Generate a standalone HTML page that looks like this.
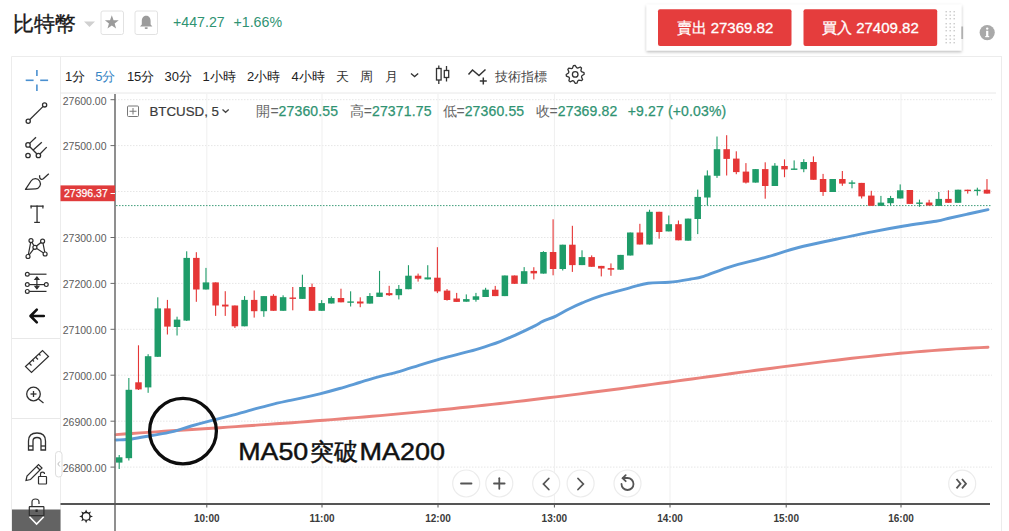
<!DOCTYPE html><html><head><meta charset="utf-8"><style>
html,body{margin:0;padding:0;background:#fff;}
body{width:1009px;height:531px;overflow:hidden;position:relative;font-family:"Liberation Sans", sans-serif;}
svg{position:absolute;left:0;top:0;}
text{font-family:"Liberation Sans", sans-serif;}
</style></head><body>
<svg width="1009" height="531" viewBox="0 0 1009 531">
<defs><filter id="sh" x="-10%" y="-30%" width="120%" height="170%"><feDropShadow dx="0" dy="1.5" stdDeviation="1.6" flood-color="#000" flood-opacity="0.28"/></filter><filter id="sh2" x="-50%" y="-50%" width="200%" height="200%"><feDropShadow dx="0" dy="0.5" stdDeviation="1" flood-color="#000" flood-opacity="0.12"/></filter></defs>
<text x="12.5" y="31" font-size="20.5" fill="#1a1a1a" stroke="#1a1a1a" stroke-width="0.35">比特幣</text>
<path d="M84 21.5 L95 21.5 L89.5 27 Z" fill="#d0d0d0"/>
<rect x="101" y="11" width="22.5" height="23.5" rx="2" fill="#fff" stroke="#e2e2e2" stroke-width="1"/>
<path d="M111.80 15.30 L113.56 20.17 L118.74 20.34 L114.65 23.53 L116.09 28.51 L111.80 25.60 L107.51 28.51 L108.95 23.53 L104.86 20.34 L110.04 20.17 Z" fill="#9b9b9b"/>
<rect x="135" y="11" width="22.5" height="23.5" rx="2" fill="#fff" stroke="#e2e2e2" stroke-width="1"/>
<path d="M146.2 15.8 C143 15.8 141.8 18.5 141.8 21 L141.8 24.5 L140 26.5 L152.4 26.5 L150.6 24.5 L150.6 21 C150.6 18.5 149.4 15.8 146.2 15.8 Z" fill="#9b9b9b"/><rect x="144.6" y="27.3" width="3.2" height="1.6" rx="0.8" fill="#9b9b9b"/>
<text x="173" y="27" font-size="14.2" fill="#2f9372">+447.27</text>
<text x="233.5" y="27" font-size="14.2" fill="#2f9372">+1.66%</text>
<rect x="646.5" y="4.5" width="315" height="46" fill="#fff" filter="url(#sh)"/>
<rect x="658" y="9.2" width="133.5" height="36.8" rx="2" fill="#e53d3d"/>
<rect x="803.5" y="9.2" width="133.7" height="36.8" rx="2" fill="#e53d3d"/>
<text x="676.5" y="33" font-size="15" fill="#fff" stroke="#fff" stroke-width="0.3">賣出 27369.82</text>
<text x="822" y="33" font-size="15" fill="#fff" stroke="#fff" stroke-width="0.3">買入 27409.82</text>
<rect x="945.5" y="11.0" width="1.4" height="1.4" fill="#c9c9c9"/>
<rect x="945.5" y="14.5" width="1.4" height="1.4" fill="#c9c9c9"/>
<rect x="945.5" y="18.0" width="1.4" height="1.4" fill="#c9c9c9"/>
<rect x="945.5" y="23.0" width="1.4" height="1.4" fill="#c9c9c9"/>
<rect x="945.5" y="26.5" width="1.4" height="1.4" fill="#c9c9c9"/>
<rect x="945.5" y="30.0" width="1.4" height="1.4" fill="#c9c9c9"/>
<rect x="945.5" y="35.0" width="1.4" height="1.4" fill="#c9c9c9"/>
<rect x="945.5" y="38.5" width="1.4" height="1.4" fill="#c9c9c9"/>
<rect x="945.5" y="42.0" width="1.4" height="1.4" fill="#c9c9c9"/>
<rect x="949.5" y="11.0" width="1.4" height="1.4" fill="#c9c9c9"/>
<rect x="949.5" y="14.5" width="1.4" height="1.4" fill="#c9c9c9"/>
<rect x="949.5" y="18.0" width="1.4" height="1.4" fill="#c9c9c9"/>
<rect x="949.5" y="23.0" width="1.4" height="1.4" fill="#c9c9c9"/>
<rect x="949.5" y="26.5" width="1.4" height="1.4" fill="#c9c9c9"/>
<rect x="949.5" y="30.0" width="1.4" height="1.4" fill="#c9c9c9"/>
<rect x="949.5" y="35.0" width="1.4" height="1.4" fill="#c9c9c9"/>
<rect x="949.5" y="38.5" width="1.4" height="1.4" fill="#c9c9c9"/>
<rect x="949.5" y="42.0" width="1.4" height="1.4" fill="#c9c9c9"/>
<rect x="953.5" y="11.0" width="1.4" height="1.4" fill="#c9c9c9"/>
<rect x="953.5" y="14.5" width="1.4" height="1.4" fill="#c9c9c9"/>
<rect x="953.5" y="18.0" width="1.4" height="1.4" fill="#c9c9c9"/>
<rect x="953.5" y="23.0" width="1.4" height="1.4" fill="#c9c9c9"/>
<rect x="953.5" y="26.5" width="1.4" height="1.4" fill="#c9c9c9"/>
<rect x="953.5" y="30.0" width="1.4" height="1.4" fill="#c9c9c9"/>
<rect x="953.5" y="35.0" width="1.4" height="1.4" fill="#c9c9c9"/>
<rect x="953.5" y="38.5" width="1.4" height="1.4" fill="#c9c9c9"/>
<rect x="953.5" y="42.0" width="1.4" height="1.4" fill="#c9c9c9"/>
<rect x="961.3" y="26.5" width="1.8" height="12.5" fill="#b0b0b0"/>
<circle cx="987.2" cy="32.6" r="7.6" fill="#a9a9a9"/>
<circle cx="987.2" cy="28.6" r="1.2" fill="#fff"/><rect x="986.1" y="30.8" width="2.2" height="6.2" fill="#fff"/><rect x="985.2" y="36" width="4" height="1.2" fill="#fff"/>
<line x1="11.5" y1="56.5" x2="1002" y2="56.5" stroke="#ececec" stroke-width="1"/>
<line x1="11.5" y1="56.5" x2="11.5" y2="531" stroke="#ececec" stroke-width="1"/>
<line x1="1001.5" y1="56.5" x2="1001.5" y2="531" stroke="#ececec" stroke-width="1"/>
<line x1="60.5" y1="57" x2="60.5" y2="531" stroke="#ececec" stroke-width="1"/>
<line x1="60.5" y1="93" x2="996" y2="93" stroke="#e8e8e8" stroke-width="1"/>
<line x1="115" y1="99.7" x2="992" y2="99.7" stroke="#e6e6e6" stroke-width="1" stroke-dasharray="1.5 1.5"/>
<line x1="115" y1="145.6" x2="992" y2="145.6" stroke="#e6e6e6" stroke-width="1" stroke-dasharray="1.5 1.5"/>
<line x1="115" y1="191.5" x2="992" y2="191.5" stroke="#e6e6e6" stroke-width="1" stroke-dasharray="1.5 1.5"/>
<line x1="115" y1="237.5" x2="992" y2="237.5" stroke="#e6e6e6" stroke-width="1" stroke-dasharray="1.5 1.5"/>
<line x1="115" y1="283.4" x2="992" y2="283.4" stroke="#e6e6e6" stroke-width="1" stroke-dasharray="1.5 1.5"/>
<line x1="115" y1="329.3" x2="992" y2="329.3" stroke="#e6e6e6" stroke-width="1" stroke-dasharray="1.5 1.5"/>
<line x1="115" y1="375.2" x2="992" y2="375.2" stroke="#e6e6e6" stroke-width="1" stroke-dasharray="1.5 1.5"/>
<line x1="115" y1="421.2" x2="992" y2="421.2" stroke="#e6e6e6" stroke-width="1" stroke-dasharray="1.5 1.5"/>
<line x1="115" y1="467.1" x2="992" y2="467.1" stroke="#e6e6e6" stroke-width="1" stroke-dasharray="1.5 1.5"/>
<line x1="206.8" y1="94" x2="206.8" y2="504" stroke="#efefef" stroke-width="1"/>
<line x1="322.0" y1="94" x2="322.0" y2="504" stroke="#efefef" stroke-width="1"/>
<line x1="438.0" y1="94" x2="438.0" y2="504" stroke="#efefef" stroke-width="1"/>
<line x1="554.4" y1="94" x2="554.4" y2="504" stroke="#efefef" stroke-width="1"/>
<line x1="670.0" y1="94" x2="670.0" y2="504" stroke="#efefef" stroke-width="1"/>
<line x1="786.2" y1="94" x2="786.2" y2="504" stroke="#efefef" stroke-width="1"/>
<line x1="901.0" y1="94" x2="901.0" y2="504" stroke="#efefef" stroke-width="1"/>
<polyline points="116.0,434.6 124.0,434.0 132.0,433.5 140.0,432.9 148.0,432.4 156.0,431.9 164.0,431.3 172.0,430.8 180.0,430.3 188.0,429.8 196.0,429.2 204.0,428.7 212.0,428.2 220.0,427.7 228.0,427.1 236.0,426.6 244.0,426.0 252.0,425.5 260.0,424.9 268.0,424.4 276.0,423.8 284.0,423.2 292.0,422.7 300.0,422.1 308.0,421.5 316.0,420.8 324.0,420.2 332.0,419.6 340.0,419.0 348.0,418.3 356.0,417.6 364.0,417.0 372.0,416.3 380.0,415.6 388.0,414.9 396.0,414.1 404.0,413.4 412.0,412.6 420.0,411.9 428.0,411.1 436.0,410.3 444.0,409.5 452.0,408.7 460.0,407.8 468.0,407.0 476.0,406.1 484.0,405.3 492.0,404.4 500.0,403.5 508.0,402.6 516.0,401.6 524.0,400.7 532.0,399.8 540.0,398.8 548.0,397.8 556.0,396.9 564.0,395.9 572.0,394.9 580.0,393.9 588.0,392.8 596.0,391.8 604.0,390.8 612.0,389.7 620.0,388.7 628.0,387.6 636.0,386.5 644.0,385.5 652.0,384.4 660.0,383.3 668.0,382.2 676.0,381.1 684.0,380.0 692.0,379.0 700.0,377.9 708.0,376.8 716.0,375.7 724.0,374.6 732.0,373.5 740.0,372.4 748.0,371.4 756.0,370.3 764.0,369.2 772.0,368.2 780.0,367.1 788.0,366.1 796.0,365.1 804.0,364.1 812.0,363.1 820.0,362.1 828.0,361.1 836.0,360.2 844.0,359.2 852.0,358.3 860.0,357.4 868.0,356.6 876.0,355.7 884.0,354.9 892.0,354.1 900.0,353.3 908.0,352.6 916.0,351.9 924.0,351.3 932.0,350.6 940.0,350.0 948.0,349.5 956.0,348.9 964.0,348.5 972.0,348.0 980.0,347.6 988.0,347.3" fill="none" stroke="#ea837c" stroke-width="2.9" stroke-linejoin="round" stroke-linecap="round"/>
<path d="M116.0 440.0 C118.6 439.8 125.9 439.8 131.8 439.0 C137.7 438.2 145.0 436.7 151.6 435.5 C158.2 434.3 164.9 433.5 171.5 431.9 C178.1 430.3 184.7 427.9 191.3 426.0 C197.9 424.1 204.5 422.3 211.1 420.6 C217.7 418.9 224.3 417.4 230.9 415.7 C237.5 413.9 244.1 411.9 250.7 410.1 C257.3 408.3 264.0 406.4 270.6 404.8 C277.2 403.2 285.5 401.4 290.4 400.3 C295.3 399.2 295.1 399.5 300.0 398.4 C304.9 397.3 313.2 395.4 319.8 393.8 C326.4 392.2 333.0 390.4 339.6 388.5 C346.2 386.6 352.9 384.5 359.5 382.5 C366.1 380.5 372.7 378.4 379.3 376.6 C385.9 374.8 392.5 373.5 399.1 371.6 C405.7 369.7 412.3 367.4 418.9 365.3 C425.5 363.2 432.2 361.2 438.8 359.3 C445.4 357.4 452.0 355.9 458.6 354.2 C465.2 352.4 471.5 350.9 478.4 348.8 C485.3 346.7 493.7 344.0 500.0 341.6 C506.3 339.2 510.6 337.2 516.4 334.6 C522.2 332.0 530.4 328.1 534.8 325.9 C539.2 323.7 539.2 323.0 542.7 321.4 C546.2 319.8 551.5 318.2 555.9 316.1 C560.3 314.0 564.6 311.2 569.0 309.0 C573.4 306.8 576.9 305.1 582.2 302.9 C587.5 300.7 592.8 298.3 600.7 295.8 C608.6 293.3 621.8 290.0 629.7 287.9 C637.6 285.8 641.5 284.1 648.1 283.2 C654.7 282.3 662.2 283.0 669.2 282.3 C676.2 281.6 684.2 280.2 690.0 279.2 C695.8 278.2 696.9 278.4 703.7 276.3 C710.5 274.2 720.6 269.7 730.8 266.6 C741.0 263.5 753.4 260.8 764.7 257.6 C776.0 254.4 787.3 250.4 798.6 247.5 C809.9 244.6 820.3 242.6 832.5 240.0 C844.7 237.4 860.1 234.1 872.0 231.8 C883.9 229.5 893.3 227.8 904.0 226.0 C914.7 224.2 928.3 222.6 936.0 221.3 C943.7 220.0 944.7 219.2 950.0 218.0 C955.3 216.8 961.7 215.4 968.0 214.0 C974.3 212.6 984.7 210.3 988.0 209.6" fill="none" stroke="#5d9bd6" stroke-width="2.9" stroke-linejoin="round" stroke-linecap="round"/>
<line x1="116" y1="205.6" x2="991" y2="205.6" stroke="#3f9d7a" stroke-width="1" stroke-dasharray="1.5 1.5"/>
<rect x="118.65" y="455.00" width="1.1" height="14.00" fill="#1f9c69"/>
<rect x="115.95" y="457.30" width="6.5" height="5.30" fill="#1f9c69"/>
<rect x="128.29" y="378.00" width="1.1" height="82.50" fill="#1f9c69"/>
<rect x="125.59" y="389.80" width="6.5" height="68.40" fill="#1f9c69"/>
<rect x="137.93" y="345.30" width="1.1" height="44.70" fill="#e53636"/>
<rect x="135.23" y="382.30" width="6.5" height="7.10" fill="#e53636"/>
<rect x="147.58" y="354.20" width="1.1" height="38.60" fill="#1f9c69"/>
<rect x="144.88" y="356.20" width="6.5" height="31.20" fill="#1f9c69"/>
<rect x="157.22" y="297.30" width="1.1" height="59.70" fill="#1f9c69"/>
<rect x="154.52" y="308.40" width="6.5" height="48.40" fill="#1f9c69"/>
<rect x="166.86" y="299.90" width="1.1" height="34.60" fill="#e53636"/>
<rect x="164.16" y="308.40" width="6.5" height="18.20" fill="#e53636"/>
<rect x="176.50" y="316.70" width="1.1" height="18.80" fill="#1f9c69"/>
<rect x="173.80" y="319.60" width="6.5" height="7.40" fill="#1f9c69"/>
<rect x="186.14" y="251.30" width="1.1" height="69.70" fill="#1f9c69"/>
<rect x="183.44" y="257.90" width="6.5" height="62.70" fill="#1f9c69"/>
<rect x="195.79" y="252.20" width="1.1" height="49.60" fill="#e53636"/>
<rect x="193.09" y="257.90" width="6.5" height="31.60" fill="#e53636"/>
<rect x="205.43" y="267.90" width="1.1" height="21.60" fill="#1f9c69"/>
<rect x="202.73" y="282.40" width="6.5" height="7.10" fill="#1f9c69"/>
<rect x="215.07" y="282.40" width="1.1" height="33.50" fill="#e53636"/>
<rect x="212.37" y="282.40" width="6.5" height="23.10" fill="#e53636"/>
<rect x="224.71" y="291.20" width="1.1" height="24.70" fill="#e53636"/>
<rect x="222.01" y="304.60" width="6.5" height="1.90" fill="#e53636"/>
<rect x="234.35" y="305.50" width="1.1" height="22.50" fill="#e53636"/>
<rect x="231.65" y="305.50" width="6.5" height="20.80" fill="#e53636"/>
<rect x="244.00" y="296.10" width="1.1" height="30.20" fill="#1f9c69"/>
<rect x="241.30" y="299.90" width="6.5" height="26.40" fill="#1f9c69"/>
<rect x="253.64" y="290.50" width="1.1" height="27.10" fill="#e53636"/>
<rect x="250.94" y="299.90" width="6.5" height="11.30" fill="#e53636"/>
<rect x="263.28" y="296.10" width="1.1" height="20.70" fill="#1f9c69"/>
<rect x="260.58" y="296.10" width="6.5" height="15.10" fill="#1f9c69"/>
<rect x="272.92" y="294.20" width="1.1" height="16.60" fill="#e53636"/>
<rect x="270.22" y="295.80" width="6.5" height="15.00" fill="#e53636"/>
<rect x="282.56" y="295.30" width="1.1" height="15.50" fill="#1f9c69"/>
<rect x="279.86" y="297.20" width="6.5" height="13.60" fill="#1f9c69"/>
<rect x="292.21" y="287.00" width="1.1" height="23.30" fill="#e53636"/>
<rect x="289.51" y="297.50" width="6.5" height="1.40" fill="#e53636"/>
<rect x="301.85" y="274.70" width="1.1" height="24.20" fill="#1f9c69"/>
<rect x="299.15" y="287.00" width="6.5" height="11.90" fill="#1f9c69"/>
<rect x="311.49" y="283.60" width="1.1" height="27.20" fill="#e53636"/>
<rect x="308.79" y="287.00" width="6.5" height="23.80" fill="#e53636"/>
<rect x="321.13" y="300.10" width="1.1" height="10.70" fill="#1f9c69"/>
<rect x="318.43" y="303.10" width="6.5" height="7.70" fill="#1f9c69"/>
<rect x="330.77" y="296.40" width="1.1" height="7.10" fill="#1f9c69"/>
<rect x="328.07" y="298.00" width="6.5" height="5.50" fill="#1f9c69"/>
<rect x="340.42" y="288.70" width="1.1" height="13.60" fill="#e53636"/>
<rect x="337.72" y="298.00" width="6.5" height="4.30" fill="#e53636"/>
<rect x="350.06" y="291.30" width="1.1" height="15.20" fill="#1f9c69"/>
<rect x="347.36" y="301.40" width="6.5" height="1.40" fill="#1f9c69"/>
<rect x="359.70" y="297.30" width="1.1" height="9.90" fill="#e53636"/>
<rect x="357.00" y="301.50" width="6.5" height="2.00" fill="#e53636"/>
<rect x="369.34" y="293.10" width="1.1" height="10.50" fill="#1f9c69"/>
<rect x="366.64" y="296.00" width="6.5" height="7.60" fill="#1f9c69"/>
<rect x="378.98" y="270.90" width="1.1" height="26.00" fill="#1f9c69"/>
<rect x="376.28" y="292.60" width="6.5" height="4.30" fill="#1f9c69"/>
<rect x="388.63" y="285.80" width="1.1" height="10.20" fill="#e53636"/>
<rect x="385.93" y="293.10" width="6.5" height="2.10" fill="#e53636"/>
<rect x="398.27" y="285.00" width="1.1" height="14.40" fill="#1f9c69"/>
<rect x="395.57" y="288.90" width="6.5" height="6.30" fill="#1f9c69"/>
<rect x="407.91" y="265.20" width="1.1" height="24.00" fill="#1f9c69"/>
<rect x="405.21" y="275.70" width="6.5" height="13.50" fill="#1f9c69"/>
<rect x="417.55" y="273.60" width="1.1" height="8.00" fill="#e53636"/>
<rect x="414.85" y="275.70" width="6.5" height="3.00" fill="#e53636"/>
<rect x="427.19" y="265.20" width="1.1" height="14.20" fill="#1f9c69"/>
<rect x="424.49" y="277.40" width="6.5" height="2.00" fill="#1f9c69"/>
<rect x="436.84" y="247.20" width="1.1" height="45.90" fill="#e53636"/>
<rect x="434.14" y="277.70" width="6.5" height="13.70" fill="#e53636"/>
<rect x="446.48" y="289.10" width="1.1" height="11.50" fill="#e53636"/>
<rect x="443.78" y="290.60" width="6.5" height="9.40" fill="#e53636"/>
<rect x="456.12" y="292.90" width="1.1" height="9.00" fill="#e53636"/>
<rect x="453.42" y="298.50" width="6.5" height="3.40" fill="#e53636"/>
<rect x="465.76" y="294.40" width="1.1" height="7.30" fill="#1f9c69"/>
<rect x="463.06" y="299.10" width="6.5" height="2.60" fill="#1f9c69"/>
<rect x="475.40" y="292.90" width="1.1" height="8.80" fill="#1f9c69"/>
<rect x="472.70" y="296.30" width="6.5" height="3.50" fill="#1f9c69"/>
<rect x="485.05" y="287.80" width="1.1" height="9.20" fill="#1f9c69"/>
<rect x="482.35" y="289.70" width="6.5" height="7.30" fill="#1f9c69"/>
<rect x="494.69" y="285.90" width="1.1" height="10.20" fill="#e53636"/>
<rect x="491.99" y="289.70" width="6.5" height="6.40" fill="#e53636"/>
<rect x="504.33" y="275.50" width="1.1" height="20.60" fill="#1f9c69"/>
<rect x="501.63" y="275.50" width="6.5" height="20.60" fill="#1f9c69"/>
<rect x="513.97" y="275.50" width="1.1" height="8.30" fill="#e53636"/>
<rect x="511.27" y="275.50" width="6.5" height="8.30" fill="#e53636"/>
<rect x="523.61" y="267.10" width="1.1" height="16.70" fill="#1f9c69"/>
<rect x="520.91" y="271.20" width="6.5" height="12.60" fill="#1f9c69"/>
<rect x="533.26" y="267.20" width="1.1" height="12.20" fill="#e53636"/>
<rect x="530.56" y="270.90" width="6.5" height="2.50" fill="#e53636"/>
<rect x="542.90" y="251.20" width="1.1" height="22.40" fill="#1f9c69"/>
<rect x="540.20" y="252.00" width="6.5" height="21.60" fill="#1f9c69"/>
<rect x="552.54" y="219.30" width="1.1" height="56.00" fill="#e53636"/>
<rect x="549.84" y="252.00" width="6.5" height="17.00" fill="#e53636"/>
<rect x="562.18" y="244.70" width="1.1" height="25.80" fill="#1f9c69"/>
<rect x="559.48" y="244.70" width="6.5" height="24.30" fill="#1f9c69"/>
<rect x="571.82" y="225.80" width="1.1" height="46.10" fill="#e53636"/>
<rect x="569.12" y="244.70" width="6.5" height="20.40" fill="#e53636"/>
<rect x="581.47" y="250.30" width="1.1" height="14.80" fill="#1f9c69"/>
<rect x="578.77" y="257.10" width="6.5" height="8.00" fill="#1f9c69"/>
<rect x="591.11" y="255.40" width="1.1" height="11.40" fill="#e53636"/>
<rect x="588.41" y="257.10" width="6.5" height="9.70" fill="#e53636"/>
<rect x="600.75" y="265.90" width="1.1" height="10.50" fill="#e53636"/>
<rect x="598.05" y="265.90" width="6.5" height="2.60" fill="#e53636"/>
<rect x="610.39" y="263.40" width="1.1" height="12.40" fill="#e53636"/>
<rect x="607.69" y="268.10" width="6.5" height="1.60" fill="#e53636"/>
<rect x="620.03" y="254.90" width="1.1" height="15.10" fill="#1f9c69"/>
<rect x="617.33" y="254.90" width="6.5" height="14.80" fill="#1f9c69"/>
<rect x="629.68" y="232.50" width="1.1" height="23.00" fill="#1f9c69"/>
<rect x="626.98" y="232.50" width="6.5" height="23.00" fill="#1f9c69"/>
<rect x="639.32" y="223.80" width="1.1" height="20.70" fill="#e53636"/>
<rect x="636.62" y="232.50" width="6.5" height="12.00" fill="#e53636"/>
<rect x="648.96" y="209.70" width="1.1" height="34.80" fill="#1f9c69"/>
<rect x="646.26" y="211.80" width="6.5" height="32.70" fill="#1f9c69"/>
<rect x="658.60" y="211.80" width="1.1" height="26.90" fill="#e53636"/>
<rect x="655.90" y="211.80" width="6.5" height="20.20" fill="#e53636"/>
<rect x="668.24" y="215.50" width="1.1" height="15.90" fill="#1f9c69"/>
<rect x="665.54" y="224.20" width="6.5" height="7.20" fill="#1f9c69"/>
<rect x="677.89" y="220.50" width="1.1" height="19.80" fill="#e53636"/>
<rect x="675.19" y="224.20" width="6.5" height="16.10" fill="#e53636"/>
<rect x="687.53" y="218.60" width="1.1" height="22.10" fill="#1f9c69"/>
<rect x="684.83" y="218.60" width="6.5" height="22.10" fill="#1f9c69"/>
<rect x="697.17" y="189.60" width="1.1" height="44.50" fill="#1f9c69"/>
<rect x="694.47" y="196.90" width="6.5" height="22.10" fill="#1f9c69"/>
<rect x="706.81" y="170.40" width="1.1" height="35.10" fill="#1f9c69"/>
<rect x="704.11" y="175.50" width="6.5" height="22.00" fill="#1f9c69"/>
<rect x="716.45" y="136.50" width="1.1" height="41.40" fill="#1f9c69"/>
<rect x="713.75" y="149.20" width="6.5" height="26.60" fill="#1f9c69"/>
<rect x="726.10" y="135.20" width="1.1" height="40.30" fill="#e53636"/>
<rect x="723.40" y="149.20" width="6.5" height="9.70" fill="#e53636"/>
<rect x="735.74" y="151.30" width="1.1" height="22.90" fill="#e53636"/>
<rect x="733.04" y="158.60" width="6.5" height="13.50" fill="#e53636"/>
<rect x="745.38" y="163.10" width="1.1" height="20.40" fill="#e53636"/>
<rect x="742.68" y="171.60" width="6.5" height="11.00" fill="#e53636"/>
<rect x="755.02" y="169.10" width="1.1" height="13.50" fill="#1f9c69"/>
<rect x="752.32" y="169.10" width="6.5" height="13.50" fill="#1f9c69"/>
<rect x="764.66" y="162.30" width="1.1" height="36.40" fill="#e53636"/>
<rect x="761.96" y="169.10" width="6.5" height="16.90" fill="#e53636"/>
<rect x="774.31" y="163.10" width="1.1" height="22.90" fill="#1f9c69"/>
<rect x="771.61" y="165.70" width="6.5" height="20.30" fill="#1f9c69"/>
<rect x="783.95" y="159.40" width="1.1" height="17.80" fill="#e53636"/>
<rect x="781.25" y="166.00" width="6.5" height="3.40" fill="#e53636"/>
<rect x="793.59" y="160.40" width="1.1" height="9.30" fill="#1f9c69"/>
<rect x="790.89" y="168.50" width="6.5" height="1.40" fill="#1f9c69"/>
<rect x="803.23" y="159.20" width="1.1" height="13.00" fill="#1f9c69"/>
<rect x="800.53" y="162.00" width="6.5" height="7.20" fill="#1f9c69"/>
<rect x="812.87" y="156.40" width="1.1" height="23.40" fill="#e53636"/>
<rect x="810.17" y="162.00" width="6.5" height="17.80" fill="#e53636"/>
<rect x="822.52" y="173.90" width="1.1" height="22.00" fill="#e53636"/>
<rect x="819.82" y="179.00" width="6.5" height="13.00" fill="#e53636"/>
<rect x="832.16" y="179.00" width="1.1" height="13.00" fill="#1f9c69"/>
<rect x="829.46" y="179.00" width="6.5" height="13.00" fill="#1f9c69"/>
<rect x="841.80" y="171.00" width="1.1" height="14.80" fill="#e53636"/>
<rect x="839.10" y="179.00" width="6.5" height="4.60" fill="#e53636"/>
<rect x="851.44" y="180.30" width="1.1" height="8.00" fill="#1f9c69"/>
<rect x="848.74" y="182.40" width="6.5" height="1.40" fill="#1f9c69"/>
<rect x="861.08" y="182.90" width="1.1" height="15.60" fill="#e53636"/>
<rect x="858.38" y="182.90" width="6.5" height="13.50" fill="#e53636"/>
<rect x="870.73" y="190.80" width="1.1" height="15.00" fill="#e53636"/>
<rect x="868.03" y="195.60" width="6.5" height="10.20" fill="#e53636"/>
<rect x="880.37" y="195.90" width="1.1" height="10.00" fill="#1f9c69"/>
<rect x="877.67" y="202.60" width="6.5" height="3.30" fill="#1f9c69"/>
<rect x="890.01" y="195.90" width="1.1" height="9.60" fill="#1f9c69"/>
<rect x="887.31" y="198.00" width="6.5" height="5.20" fill="#1f9c69"/>
<rect x="899.65" y="184.40" width="1.1" height="14.10" fill="#1f9c69"/>
<rect x="896.95" y="190.30" width="6.5" height="8.20" fill="#1f9c69"/>
<rect x="909.29" y="190.00" width="1.1" height="13.90" fill="#e53636"/>
<rect x="906.59" y="190.00" width="6.5" height="13.90" fill="#e53636"/>
<rect x="918.94" y="199.60" width="1.1" height="7.20" fill="#1f9c69"/>
<rect x="916.24" y="202.50" width="6.5" height="1.40" fill="#1f9c69"/>
<rect x="928.58" y="199.80" width="1.1" height="5.70" fill="#e53636"/>
<rect x="925.88" y="202.50" width="6.5" height="3.00" fill="#e53636"/>
<rect x="938.22" y="192.00" width="1.1" height="13.90" fill="#1f9c69"/>
<rect x="935.52" y="198.90" width="6.5" height="7.00" fill="#1f9c69"/>
<rect x="947.86" y="190.30" width="1.1" height="12.50" fill="#e53636"/>
<rect x="945.16" y="198.90" width="6.5" height="3.90" fill="#e53636"/>
<rect x="957.50" y="189.70" width="1.1" height="13.10" fill="#1f9c69"/>
<rect x="954.80" y="189.70" width="6.5" height="13.10" fill="#1f9c69"/>
<rect x="967.15" y="189.70" width="1.1" height="3.90" fill="#e53636"/>
<rect x="964.45" y="189.70" width="6.5" height="1.40" fill="#e53636"/>
<rect x="976.79" y="187.70" width="1.1" height="7.90" fill="#1f9c69"/>
<rect x="974.09" y="189.70" width="6.5" height="1.40" fill="#1f9c69"/>
<rect x="986.43" y="179.10" width="1.1" height="14.50" fill="#e53636"/>
<rect x="983.73" y="189.70" width="6.5" height="3.90" fill="#e53636"/>
<ellipse cx="183" cy="431.1" rx="33.4" ry="32.7" fill="none" stroke="#0d0d0d" stroke-width="3.3"/>
<g fill="#111" stroke="#111" stroke-width="0.45"><text transform="translate(238.2 460.3) scale(1.117 1)" font-size="24">MA50</text><text x="309.8" y="460.3" font-size="24">突破</text><text transform="translate(359.5 460.3) scale(1.125 1)" font-size="24">MA200</text></g>
<line x1="115" y1="94" x2="115" y2="531" stroke="#6a6a6a" stroke-width="1.5"/>
<line x1="110.5" y1="99.7" x2="115" y2="99.7" stroke="#6a6a6a" stroke-width="1"/>
<text x="106.5" y="104.5" font-size="10.5" fill="#5c5c5c" text-anchor="end">27600.00</text>
<line x1="110.5" y1="145.6" x2="115" y2="145.6" stroke="#6a6a6a" stroke-width="1"/>
<text x="106.5" y="150.4" font-size="10.5" fill="#5c5c5c" text-anchor="end">27500.00</text>
<line x1="110.5" y1="191.5" x2="115" y2="191.5" stroke="#6a6a6a" stroke-width="1"/>
<line x1="110.5" y1="237.5" x2="115" y2="237.5" stroke="#6a6a6a" stroke-width="1"/>
<text x="106.5" y="242.3" font-size="10.5" fill="#5c5c5c" text-anchor="end">27300.00</text>
<line x1="110.5" y1="283.4" x2="115" y2="283.4" stroke="#6a6a6a" stroke-width="1"/>
<text x="106.5" y="288.2" font-size="10.5" fill="#5c5c5c" text-anchor="end">27200.00</text>
<line x1="110.5" y1="329.3" x2="115" y2="329.3" stroke="#6a6a6a" stroke-width="1"/>
<text x="106.5" y="334.1" font-size="10.5" fill="#5c5c5c" text-anchor="end">27100.00</text>
<line x1="110.5" y1="375.2" x2="115" y2="375.2" stroke="#6a6a6a" stroke-width="1"/>
<text x="106.5" y="380.1" font-size="10.5" fill="#5c5c5c" text-anchor="end">27000.00</text>
<line x1="110.5" y1="421.2" x2="115" y2="421.2" stroke="#6a6a6a" stroke-width="1"/>
<text x="106.5" y="426.0" font-size="10.5" fill="#5c5c5c" text-anchor="end">26900.00</text>
<line x1="110.5" y1="467.1" x2="115" y2="467.1" stroke="#6a6a6a" stroke-width="1"/>
<text x="106.5" y="471.9" font-size="10.5" fill="#5c5c5c" text-anchor="end">26800.00</text>
<rect x="60.5" y="185.4" width="54.5" height="15.8" fill="#e03b3b"/>
<text x="64" y="197.3" font-size="10.5" fill="#fff" stroke="#fff" stroke-width="0.25">27396.37</text>
<line x1="110.5" y1="193.5" x2="115" y2="193.5" stroke="#fff" stroke-width="1"/>
<line x1="60.5" y1="504" x2="990" y2="504" stroke="#555" stroke-width="2"/>
<line x1="206.8" y1="504" x2="206.8" y2="507.5" stroke="#555" stroke-width="1"/>
<text x="206.8" y="522.2" font-size="10" font-weight="bold" fill="#3a3a3a" text-anchor="middle">10:00</text>
<line x1="322.0" y1="504" x2="322.0" y2="507.5" stroke="#555" stroke-width="1"/>
<text x="322.0" y="522.2" font-size="10" font-weight="bold" fill="#3a3a3a" text-anchor="middle">11:00</text>
<line x1="438.0" y1="504" x2="438.0" y2="507.5" stroke="#555" stroke-width="1"/>
<text x="438.0" y="522.2" font-size="10" font-weight="bold" fill="#3a3a3a" text-anchor="middle">12:00</text>
<line x1="554.4" y1="504" x2="554.4" y2="507.5" stroke="#555" stroke-width="1"/>
<text x="554.4" y="522.2" font-size="10" font-weight="bold" fill="#3a3a3a" text-anchor="middle">13:00</text>
<line x1="670.0" y1="504" x2="670.0" y2="507.5" stroke="#555" stroke-width="1"/>
<text x="670.0" y="522.2" font-size="10" font-weight="bold" fill="#3a3a3a" text-anchor="middle">14:00</text>
<line x1="786.2" y1="504" x2="786.2" y2="507.5" stroke="#555" stroke-width="1"/>
<text x="786.2" y="522.2" font-size="10" font-weight="bold" fill="#3a3a3a" text-anchor="middle">15:00</text>
<line x1="901.0" y1="504" x2="901.0" y2="507.5" stroke="#555" stroke-width="1"/>
<text x="901.0" y="522.2" font-size="10" font-weight="bold" fill="#3a3a3a" text-anchor="middle">16:00</text>
<g fill="#222"><path d="M93.00 516.40 L90.14 515.24 L90.14 517.56 Z"/><path d="M90.98 521.28 L89.77 518.43 L88.13 520.07 Z"/><path d="M86.10 523.30 L87.26 520.44 L84.94 520.44 Z"/><path d="M81.22 521.28 L84.07 520.07 L82.43 518.43 Z"/><path d="M79.20 516.40 L82.06 517.56 L82.06 515.24 Z"/><path d="M81.22 511.52 L82.43 514.37 L84.07 512.73 Z"/><path d="M86.10 509.50 L84.94 512.36 L87.26 512.36 Z"/><path d="M90.98 511.52 L88.13 512.73 L89.77 514.37 Z"/></g><circle cx="86.1" cy="516.4" r="3.9" fill="#fff" stroke="#222" stroke-width="1.3"/>
<text x="64.9" y="80.8" font-size="13" fill="#222">1分</text>
<text x="95.2" y="80.8" font-size="13" fill="#3584c4">5分</text>
<text x="126.9" y="80.8" font-size="13" fill="#222">15分</text>
<text x="164.6" y="80.8" font-size="13" fill="#222">30分</text>
<text x="202.6" y="80.8" font-size="13" fill="#222">1小時</text>
<text x="246.9" y="80.8" font-size="13" fill="#222">2小時</text>
<text x="291.5" y="80.8" font-size="13" fill="#222">4小時</text>
<text x="336.1" y="80.8" font-size="13" fill="#333">天</text>
<text x="359.9" y="80.8" font-size="13" fill="#333">周</text>
<text x="384.7" y="80.8" font-size="13" fill="#333">月</text>
<path d="M411 73.5 L414.6 76.6 L418.2 73.5" fill="none" stroke="#333" stroke-width="1.3"/>
<g stroke="#333" stroke-width="1.3" fill="none"><line x1="438.8" y1="65.5" x2="438.8" y2="84"/><rect x="436.5" y="68.5" width="4.6" height="11.5" fill="#fff"/><line x1="446.5" y1="66" x2="446.5" y2="81.5"/><rect x="444.3" y="70.5" width="4.4" height="7" fill="#fff"/></g>
<g stroke="#333" stroke-width="1.5" fill="none"><path d="M468.5 74.5 L472.5 70 L479 75.5 L485.5 69.5"/><line x1="483.3" y1="77.5" x2="483.3" y2="84.5"/><line x1="479.8" y1="81" x2="486.8" y2="81"/></g>
<text x="494.9" y="80.8" font-size="13" fill="#484848">技術指標</text>
<polygon points="584.0,72.7 584.2,74.3 581.9,75.8 581.5,76.9 582.6,79.5 581.6,80.7 578.9,80.1 577.9,80.7 576.9,83.2 575.3,83.4 573.8,81.1 572.7,80.7 570.1,81.8 568.9,80.8 569.5,78.1 568.9,77.1 566.4,76.1 566.2,74.5 568.5,73.0 568.9,71.9 567.8,69.3 568.8,68.1 571.5,68.7 572.5,68.1 573.5,65.6 575.1,65.4 576.6,67.7 577.7,68.1 580.3,67.0 581.5,68.0 580.9,70.7 581.5,71.7" fill="none" stroke="#333" stroke-width="1.3" stroke-linejoin="round"/>
<circle cx="575.2" cy="74.4" r="2.8" fill="none" stroke="#333" stroke-width="1.3"/>
<rect x="127.5" y="106" width="11" height="10.5" rx="1" fill="none" stroke="#777" stroke-width="1"/>
<line x1="133" y1="108" x2="133" y2="114.5" stroke="#777" stroke-width="1"/><line x1="129.5" y1="111.25" x2="136.5" y2="111.25" stroke="#777" stroke-width="1"/>
<text x="149.5" y="115.7" font-size="13.3" fill="#3a3a3a" stroke="#3a3a3a" stroke-width="0.2">BTCUSD, 5</text>
<path d="M222.5 109.5 L225.6 112.3 L228.7 109.5" fill="none" stroke="#444" stroke-width="1.3"/>
<text x="256.4" y="116.2" font-size="14" fill="#666">開=<tspan fill="#2f9372" stroke="#2f9372" stroke-width="0.25" letter-spacing="0.15">27360.55</tspan></text>
<text x="349.8" y="116.2" font-size="14" fill="#666">高=<tspan fill="#2f9372" stroke="#2f9372" stroke-width="0.25" letter-spacing="0.15">27371.75</tspan></text>
<text x="442.5" y="116.2" font-size="14" fill="#666">低=<tspan fill="#2f9372" stroke="#2f9372" stroke-width="0.25" letter-spacing="0.15">27360.55</tspan></text>
<text x="535.6" y="116.2" font-size="14" fill="#666">收=<tspan fill="#2f9372" stroke="#2f9372" stroke-width="0.25" letter-spacing="0.15">27369.82</tspan></text>
<text x="627.7" y="116.2" font-size="14" fill="#2f9372" stroke="#2f9372" stroke-width="0.25" letter-spacing="0.15">+9.27 (+0.03%)</text>
<g stroke="#4a90d0" stroke-width="1.6"><line x1="25.7" y1="80.3" x2="33.6" y2="80.3"/><line x1="40.2" y1="80.3" x2="48.1" y2="80.3"/><line x1="36.9" y1="70" x2="36.9" y2="76"/><line x1="36.9" y1="84.6" x2="36.9" y2="91.1"/></g>
<g stroke="#2f2f2f" stroke-width="1.3" fill="#fff"><line x1="29.6" y1="119.8" x2="43.2" y2="106.4"/><circle cx="28.2" cy="121.3" r="2.1"/><circle cx="44.6" cy="104.9" r="2.1"/></g>
<g stroke="#2f2f2f" stroke-width="1.3" fill="#fff"><line x1="29.3" y1="143.6" x2="36" y2="137.3"/><line x1="29.3" y1="146.3" x2="37.2" y2="154.2"/><line x1="33.2" y1="150" x2="41.8" y2="142.2"/><line x1="39.7" y1="154.2" x2="46.7" y2="147.1"/><circle cx="28" cy="144.9" r="2.2"/><circle cx="28" cy="155.5" r="2.2"/><circle cx="38.4" cy="155.5" r="2.2"/></g>
<g stroke="#2f2f2f" stroke-width="1.3" fill="none" stroke-linejoin="round"><path d="M25.5 189.4 L31.04 180.99 A5.1 5.1 0 1 1 35.56 188.89 Z"/><path d="M39.6 175.2 L39.6 176.8 C39.6 179 41.8 180 43.3 178.8 L48.8 173.8"/></g>
<g fill="#2f2f2f"><rect x="30.5" y="205.5" width="13" height="1.3"/><rect x="36.4" y="205.5" width="1.3" height="17.5"/><rect x="30.5" y="205.5" width="1.2" height="3"/><rect x="42.3" y="205.5" width="1.2" height="3"/><rect x="34.2" y="221.8" width="5.7" height="1.2"/></g>
<g stroke="#2f2f2f" stroke-width="1.2" fill="#fff"><path d="M28 256.5 L31 240.6 L34.9 247.3 L42.6 241.2 L45.1 254 L34.9 247.3 L28 256.5" fill="none"/><circle cx="28" cy="256.5" r="2"/><circle cx="31" cy="240.6" r="2"/><circle cx="42.6" cy="241.2" r="2"/><circle cx="45.1" cy="254" r="2"/><circle cx="34.9" cy="247.3" r="2"/></g>
<g stroke="#2f2f2f" stroke-width="1.2" fill="#fff"><line x1="29" y1="274.2" x2="46.5" y2="274.2"/><line x1="29" y1="284.6" x2="44.3" y2="284.6"/><line x1="29" y1="291.4" x2="46.5" y2="291.4"/><line x1="36.9" y1="277.5" x2="36.9" y2="288.2"/><path d="M35 279.3 L36.9 277 L38.8 279.3 Z M35 286.4 L36.9 288.8 L38.8 286.4 Z" fill="#2f2f2f"/><circle cx="27.3" cy="274.2" r="1.9"/><circle cx="27.3" cy="284.6" r="1.9"/><circle cx="27.3" cy="291.4" r="1.9"/><circle cx="46.3" cy="284.6" r="1.9"/></g>
<path d="M30.5 316 L36.8 309.6 M30.5 316 L36.8 322.4 M31 316 L43.8 316" stroke="#111" stroke-width="2.6" fill="none" stroke-linecap="round"/>
<line x1="12" y1="338.5" x2="60" y2="338.5" stroke="#e8e8e8" stroke-width="1"/>
<line x1="12" y1="418.5" x2="60" y2="418.5" stroke="#e8e8e8" stroke-width="1"/>
<g stroke="#2f2f2f" stroke-width="1.2" fill="none"><path d="M25.5 366.5 L42.5 350.5 L48.5 356.5 L31.5 372.5 Z"/><path d="M29 363 L31.5 365.5 M32.5 360 L34 361.5 M35.5 357 L38 359.5 M39 354 L40.5 355.5"/></g>
<g stroke="#2f2f2f" stroke-width="1.3" fill="none"><circle cx="33.5" cy="394" r="6.8"/><line x1="38.5" y1="399" x2="43.5" y2="403"/><line x1="30.5" y1="394" x2="36.5" y2="394"/><line x1="33.5" y1="391" x2="33.5" y2="397"/></g>
<g stroke="#2f2f2f" stroke-width="1.3" fill="none"><path d="M28.5 450 L28.5 441 C28.5 435.5 32 433 37 433 C42 433 45.5 435.5 45.5 441 L45.5 450 L41 450 L41 441 C41 438.5 39.5 437.5 37 437.5 C34.5 437.5 33 438.5 33 441 L33 450 Z"/><line x1="28.5" y1="446" x2="33" y2="446"/><line x1="41" y1="446" x2="45.5" y2="446"/></g>
<g stroke="#2f2f2f" stroke-width="1.2" fill="none"><path d="M26 480.5 L27 476 L38.5 464.5 L42 468 L30.5 479.5 Z"/><line x1="36.5" y1="466.5" x2="40" y2="470"/><rect x="38.5" y="476.5" width="8" height="7.5" rx="0.5"/><path d="M40.5 476.5 L40.5 474 C40.5 471.5 44.5 471.5 44.5 474"/></g>
<rect x="12" y="509.5" width="48.5" height="22" fill="#636363"/>
<g stroke="#2f2f2f" stroke-width="1.2" fill="none"><path d="M32 506.5 L32 502 C32 498 39 498 39 502 L39 504"/><rect x="29.3" y="506.7" width="14.6" height="9" rx="0.5"/></g>
<path d="M29.5 516.8 L36.6 524 L43.7 516.8" fill="none" stroke="#fff" stroke-width="1.6"/>
<rect x="35.5" y="509.5" width="2.2" height="2.5" fill="#2a2a2a"/>
<rect x="55.5" y="451.5" width="6.5" height="25.5" rx="3" fill="#fff" stroke="#dedede" stroke-width="1"/>
<path d="M59.8 461.5 L57.8 464 L59.8 466.5" fill="none" stroke="#bbb" stroke-width="1"/>
<circle cx="466.2" cy="483.5" r="13.5" fill="#fff" stroke="#ececec" stroke-width="1.2"/>
<circle cx="499.3" cy="483.5" r="13.5" fill="#fff" stroke="#ececec" stroke-width="1.2"/>
<circle cx="546.2" cy="483.5" r="13.5" fill="#fff" stroke="#ececec" stroke-width="1.2"/>
<circle cx="580.6" cy="483.5" r="13.5" fill="#fff" stroke="#ececec" stroke-width="1.2"/>
<circle cx="627.5" cy="483.5" r="13.5" fill="#fff" stroke="#ececec" stroke-width="1.2"/>
<circle cx="962.2" cy="483.7" r="13.5" fill="#fff" stroke="#ececec" stroke-width="1.2"/>
<g stroke="#555" stroke-width="1.8" fill="none" stroke-linecap="round"><line x1="461" y1="483.5" x2="471.5" y2="483.5"/><line x1="494" y1="483.5" x2="504.6" y2="483.5"/><line x1="499.3" y1="478.2" x2="499.3" y2="488.8"/><path d="M548.8 478.5 L543.5 484 L548.8 489.5"/><path d="M578 478.5 L583.3 484 L578 489.5"/></g>
<g stroke="#555" stroke-width="1.8" fill="none" stroke-linecap="round"><path d="M621.5 484 A6 6 0 1 0 627.5 478 L623 478"/><path d="M625.7 475.2 L622.6 478.2 L625.7 481.2"/></g>
<g stroke="#555" stroke-width="1.8" fill="none"><path d="M956.5 479 L960.5 483.7 L956.5 488.4"/><path d="M962 479 L966 483.7 L962 488.4"/></g>
</svg></body></html>
